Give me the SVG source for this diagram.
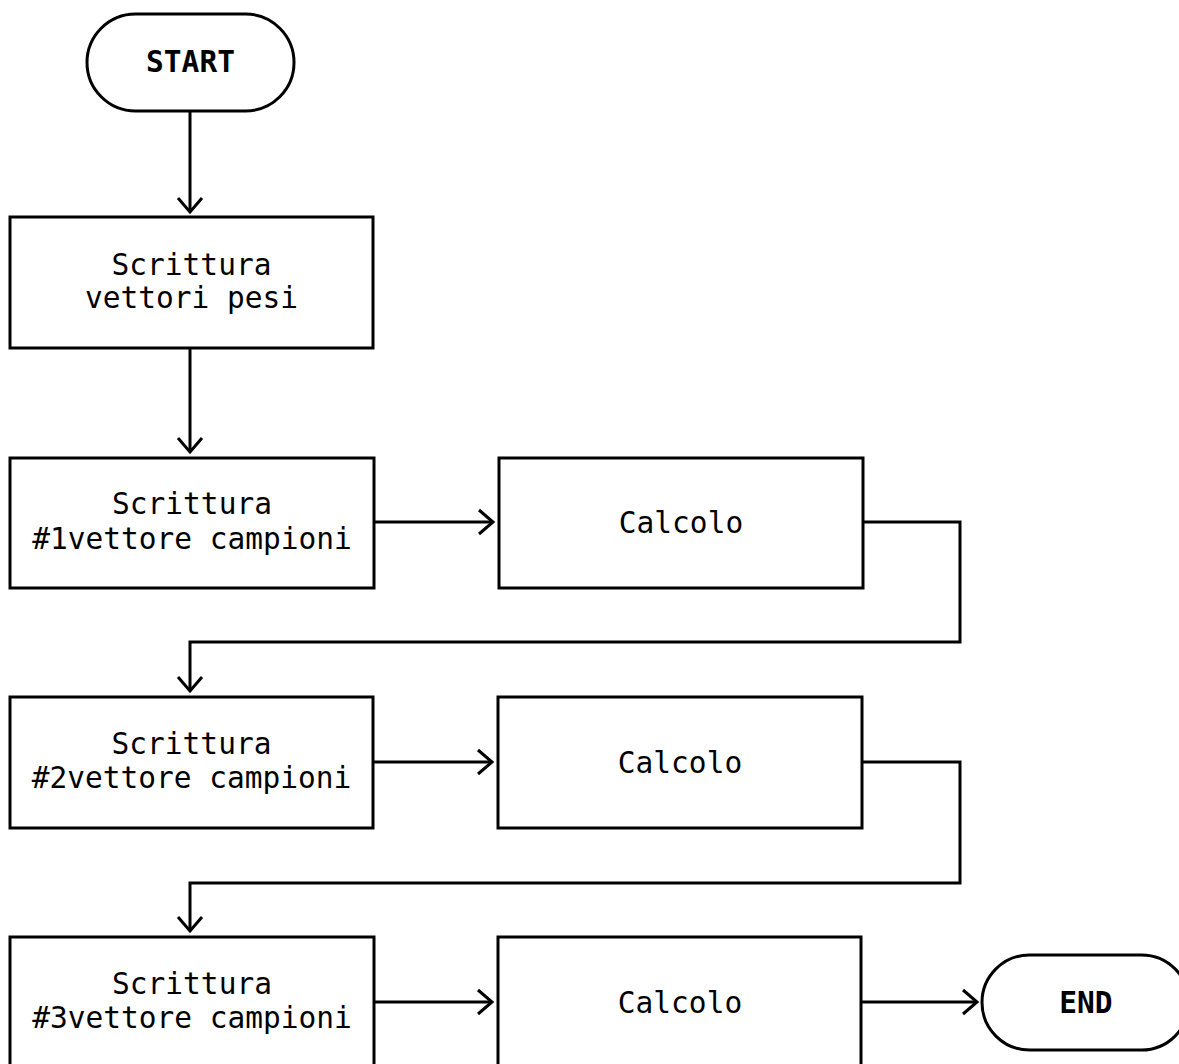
<svg xmlns="http://www.w3.org/2000/svg" width="1179" height="1064" viewBox="0 0 1179 1064">
<defs>
<marker id="arr" markerUnits="userSpaceOnUse" markerWidth="34" markerHeight="34" viewBox="-17 -17 34 34" refX="0" refY="0" orient="auto">
<path d="M-14,-12 L0,0 L-14,12" fill="none" stroke="#000" stroke-width="3"/>
</marker>
<style>
.n{fill:#fff;stroke:#000;stroke-width:3}
.t{font-family:"DejaVu Sans Mono","Liberation Mono",monospace;font-size:29.5px;fill:#000;text-anchor:middle}
.b{font-weight:bold}
.c{fill:none;stroke:#000;stroke-width:3;marker-end:url(#arr)}
</style>
</defs>
<rect width="1179" height="1064" fill="#fff"/>
<g id="connectors">
<path class="c" d="M190,111 V212"/>
<path class="c" d="M190,348 V452"/>
<path class="c" d="M374,522 H493"/>
<path class="c" d="M863,522 H960 V642 H190 V691"/>
<path class="c" d="M373,762 H492"/>
<path class="c" d="M862,762 H960 V883 H190 V931"/>
<path class="c" d="M374,1002 H492"/>
<path class="c" d="M861,1002 H977"/>
</g>
<g id="start">
<rect class="n" x="87" y="14" width="207" height="97" rx="48.5"/>
<text class="t b" x="190.5" y="72">START</text>
</g>
<g id="scrittura-pesi">
<rect class="n" x="10" y="217" width="363" height="131"/>
<text class="t" x="191.5" y="275">Scrittura</text>
<text class="t" x="191.5" y="308">vettori pesi</text>
</g>
<g id="scrittura-1">
<rect class="n" x="10" y="458" width="364" height="130"/>
<text class="t" x="192" y="514">Scrittura</text>
<text class="t" x="192" y="549">#1vettore campioni</text>
</g>
<g id="calcolo-1">
<rect class="n" x="499" y="458" width="364" height="130"/>
<text class="t" x="681" y="533">Calcolo</text>
</g>
<g id="scrittura-2">
<rect class="n" x="10" y="697" width="363" height="131"/>
<text class="t" x="191.5" y="754">Scrittura</text>
<text class="t" x="191.5" y="788">#2vettore campioni</text>
</g>
<g id="calcolo-2">
<rect class="n" x="498" y="697" width="364" height="131"/>
<text class="t" x="680" y="773">Calcolo</text>
</g>
<g id="scrittura-3">
<rect class="n" x="10" y="937" width="364" height="131"/>
<text class="t" x="192" y="994">Scrittura</text>
<text class="t" x="192" y="1028">#3vettore campioni</text>
</g>
<g id="calcolo-3">
<rect class="n" x="498" y="937" width="363" height="131"/>
<text class="t" x="680" y="1013">Calcolo</text>
</g>
<g id="end">
<rect class="n" x="982" y="955" width="207" height="95" rx="47.5"/>
<text class="t b" x="1086" y="1013">END</text>
</g>
</svg>
